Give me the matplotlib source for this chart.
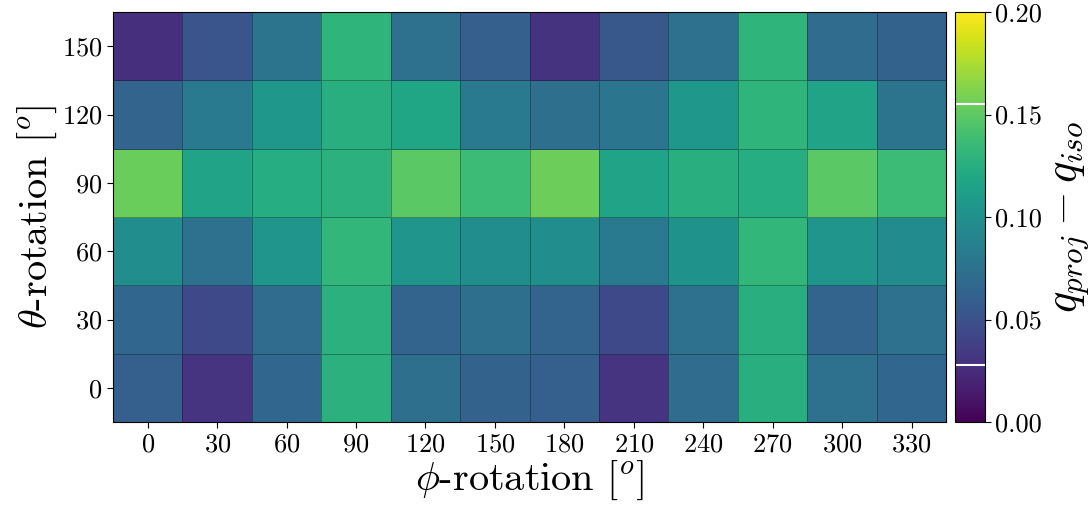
import numpy as np
import matplotlib
matplotlib.use("Agg")
import matplotlib.pyplot as plt

plt.rcParams['font.family'] = 'cmr10'
plt.rcParams['mathtext.fontset'] = 'cm'
plt.rcParams['axes.unicode_minus'] = False
plt.rcParams['axes.formatter.use_mathtext'] = True

phi = [0, 30, 60, 90, 120, 150, 180, 210, 240, 270, 300, 330]
theta = [0, 30, 60, 90, 120, 150]

# q_proj - q_iso, one row per theta
dq_0 = [0.060, 0.030, 0.066, 0.128, 0.072, 0.062, 0.060, 0.030, 0.070, 0.126, 0.074, 0.066]
dq_30 = [0.066, 0.044, 0.070, 0.128, 0.064, 0.072, 0.064, 0.044, 0.074, 0.126, 0.064, 0.074]
dq_60 = [0.098, 0.074, 0.104, 0.132, 0.104, 0.098, 0.098, 0.082, 0.102, 0.132, 0.104, 0.096]
dq_90 = [0.154, 0.116, 0.124, 0.128, 0.149, 0.136, 0.155, 0.116, 0.126, 0.124, 0.149, 0.136]
dq_120 = [0.064, 0.082, 0.106, 0.126, 0.118, 0.082, 0.072, 0.078, 0.106, 0.130, 0.116, 0.076]
dq_150 = [0.028, 0.052, 0.076, 0.130, 0.074, 0.060, 0.029, 0.054, 0.074, 0.130, 0.070, 0.062]

Z = np.array([dq_0, dq_30, dq_60, dq_90, dq_120, dq_150])

fig = plt.figure(figsize=(10.92, 5.15), dpi=100)
ax = fig.add_axes([0.1035, 0.1806, 0.763, 0.796])
cax = fig.add_axes([0.8745, 0.1806, 0.0275, 0.796])

dp = phi[1] - phi[0]
dt = theta[1] - theta[0]
xe = np.append(np.array(phi) - dp / 2, phi[-1] + dp / 2)
ye = np.append(np.array(theta) - dt / 2, theta[-1] + dt / 2)
mesh = ax.pcolormesh(xe, ye, Z, cmap='viridis', vmin=0.0, vmax=0.2,
                     edgecolors=(0, 0, 0, 0.3), linewidth=0.7)

ax.set_xticks(phi)
ax.set_yticks(theta)
ax.tick_params(labelsize=19, length=4)
ax.set_xlabel(r'$\phi$-rotation $[^o]$', fontsize=29, labelpad=2)
ax.set_ylabel(r'$\theta$-rotation $[^o]$', fontsize=29, labelpad=2)

cb = fig.colorbar(mesh, cax=cax)
cb.set_ticks([0.0, 0.05, 0.10, 0.15, 0.20])
cb.ax.set_yticklabels(['0.00', '0.05', '0.10', '0.15', '0.20'])
cb.ax.tick_params(labelsize=19, length=4)
cb.set_label(r'$q_{proj} - q_{iso}$', fontsize=32, labelpad=6)
# mark the data range on the colour bar
cb.ax.axhline(Z.min(), color='white', lw=1.5)
cb.ax.axhline(Z.max(), color='white', lw=1.5)

fig.savefig('out.png', dpi=100)
